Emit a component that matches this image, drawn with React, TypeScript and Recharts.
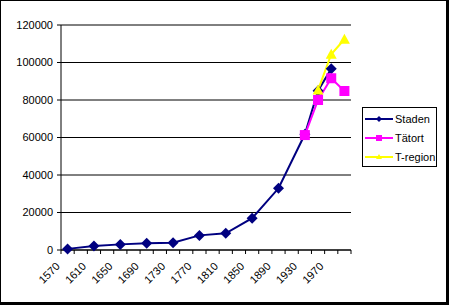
import { LineChart, Line, XAxis, YAxis, CartesianGrid, Legend } from "recharts";

// categories: 20-year steps, Excel shows every second label
const years = [
  "1570", "1590", "1610", "1630", "1650", "1670", "1690", "1710", "1730", "1750", "1770",
  "1790", "1810", "1830", "1850", "1870", "1890", "1910", "1930", "1950", "1970", "1990",
];
const shownLabels = ["1570", "1610", "1650", "1690", "1730", "1770", "1810", "1850", "1890", "1930", "1970"];

const staden = [
  600, null, 2100, null, 3000, null, 3600, null, 3900, null, 7800,
  null, 8900, null, 17000, null, 32900, null, 61700, 85000, 96700, null,
];
const tatort = [
  null, null, null, null, null, null, null, null, null, null, null,
  null, null, null, null, null, null, null, 61300, 80000, 91600, 84800,
];
const tregion = [
  null, null, null, null, null, null, null, null, null, null, null,
  null, null, null, null, null, null, null, null, 85300, 104400, 112400,
];
const yTicks = [0, 20000, 40000, 60000, 80000, 100000, 120000];

const series = [
  { key: "staden", name: "Staden", color: "#000080", marker: "diamond" },
  { key: "tatort", name: "Tätort", color: "#FF00FF", marker: "square" },
  { key: "tregion", name: "T-region", color: "#FFFF00", marker: "triangle" },
];

const data = years.map((year, i) => ({
  year,
  staden: staden[i],
  tatort: tatort[i],
  tregion: tregion[i],
}));

const PLOT_W = 290;
const HALF_BAND = PLOT_W / years.length / 2;

function Marker({ type, cx, cy, color, r }: { type: string; cx: number; cy: number; color: string; r: number }) {
  if (type === "diamond") {
    return <polygon points={`${cx},${cy - r} ${cx + r},${cy} ${cx},${cy + r} ${cx - r},${cy}`} fill={color} />;
  }
  if (type === "square") {
    return <rect x={cx - r} y={cy - r} width={2 * r} height={2 * r} fill={color} />;
  }
  return <polygon points={`${cx},${cy - r} ${cx + r},${cy + r - 1} ${cx - r},${cy + r - 1}`} fill={color} />;
}

function makeDot(type: string, color: string, r: number) {
  return (props: any) => {
    const { cx, cy, index } = props;
    if (cx == null || cy == null || props.value == null) return <g key={`d-${index}`} />;
    return (
      <g key={`d-${index}`}>
        <Marker type={type} cx={cx} cy={cy} color={color} r={r} />
      </g>
    );
  };
}

const dotSize: Record<string, number> = { diamond: 5.5, square: 5, triangle: 5.5 };

function XTick(props: any) {
  const { x, y, payload, index } = props;
  const isLast = index === years.length - 1;
  const lx = x - 7;
  const ly = y + 17;
  return (
    <g>
      <line x1={x - HALF_BAND} y1={y} x2={x - HALF_BAND} y2={y + 4} stroke="#000" />
      {isLast && <line x1={x + HALF_BAND} y1={y} x2={x + HALF_BAND} y2={y + 4} stroke="#000" />}
      {shownLabels.includes(payload.value) && (
        <text x={lx} y={ly} textAnchor="end" fontSize={11} fill="#000" transform={`rotate(-45, ${lx}, ${ly})`}>
          {payload.value}
        </text>
      )}
    </g>
  );
}

function LegendBox() {
  return (
    <div
      style={{
        width: 75,
        height: 60,
        boxSizing: "border-box",
        border: "1px solid #000",
        background: "#fff",
        fontSize: 11,
        color: "#000",
      }}
    >
      <svg width={73} height={58}>
        {series.map((s, i) => {
          const cy = 11 + i * 19;
          return (
            <g key={s.key}>
              <line x1={2} y1={cy} x2={30} y2={cy} stroke={s.color} strokeWidth={2} />
              <Marker type={s.marker} cx={16} cy={cy} color={s.color} r={3} />
              <text x={32} y={cy + 4} fontSize={11} fill="#000">
                {s.name}
              </text>
            </g>
          );
        })}
      </svg>
    </div>
  );
}

export default function App() {
  return (
    <div
      style={{
        position: "absolute",
        left: 0,
        top: 0,
        width: 449,
        height: 305,
        background: "#fff",
        fontFamily: "'Liberation Sans', Arial, sans-serif",
      }}
    >
      <LineChart width={449} height={305} data={data} margin={{ top: 25, right: 98, bottom: 0, left: 0 }}>
        <CartesianGrid horizontal vertical={false} stroke="#000" strokeDasharray="" />
        <XAxis
          dataKey="year"
          interval={0}
          height={55}
          padding={{ left: HALF_BAND, right: HALF_BAND }}
          tickSize={0}
          tickMargin={0}
          tickLine={false}
          axisLine={{ stroke: "#000" }}
          tick={<XTick />}
        />
        <YAxis
          width={61}
          domain={[0, 120000]}
          ticks={yTicks}
          interval={0}
          tickSize={4}
          tickMargin={4}
          axisLine={{ stroke: "#000" }}
          tickLine={{ stroke: "#000" }}
          tick={{ fontSize: 11, fill: "#000" }}
        />
        <Legend
          layout="horizontal"
          align="center"
          verticalAlign="middle"
          content={() => <LegendBox />}
          wrapperStyle={{ position: "absolute", left: 362, top: 107, width: 75, height: 60 }}
        />
        {series.map((s) => (
          <Line
            key={s.key}
            dataKey={s.key}
            name={s.name}
            stroke={s.color}
            strokeWidth={2}
            connectNulls
            dot={makeDot(s.marker, s.color, dotSize[s.marker])}
            activeDot={false}
            isAnimationActive={false}
          />
        ))}
      </LineChart>
      <div
        style={{
          position: "absolute",
          left: 0,
          top: 0,
          width: 449,
          height: 305,
          boxSizing: "border-box",
          borderStyle: "solid",
          borderColor: "#000",
          borderWidth: "1px 3px 3px 1px",
          pointerEvents: "none",
        }}
      />
    </div>
  );
}
